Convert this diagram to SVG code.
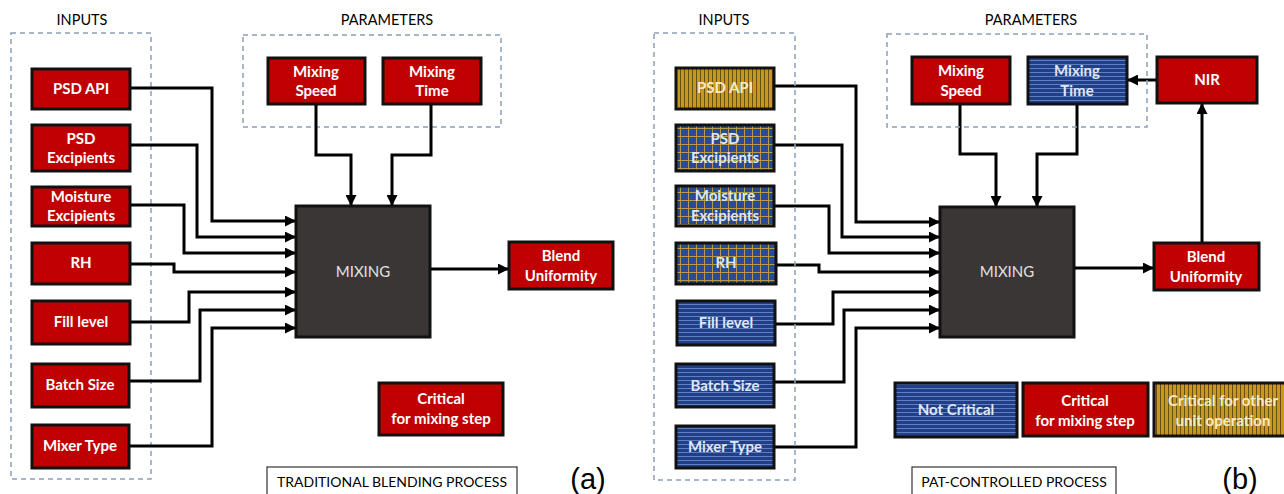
<svg xmlns="http://www.w3.org/2000/svg" width="1284" height="494" viewBox="0 0 1284 494">
<defs>
<style>
.lbl{font-family:Lato,"Liberation Sans",sans-serif;font-size:14.5px;fill:#000;text-anchor:middle}
.ttl{font-family:Lato,"Liberation Sans",sans-serif;font-size:14px;fill:#000;text-anchor:middle}
.nt{font-family:Lato,"Liberation Sans",sans-serif;font-size:15px;font-weight:bold;fill:#fff;text-anchor:middle}
.pt{font-family:Lato,"Liberation Sans",sans-serif;font-size:15px;font-weight:bold;fill:#dfe6f5;text-anchor:middle}
.gt{font-family:Lato,"Liberation Sans",sans-serif;font-size:15px;font-weight:bold;fill:#f5ecc4;text-anchor:middle}
.mt{font-family:Lato,"Liberation Sans",sans-serif;font-size:15px;fill:#e2e2e2;text-anchor:middle}
.big{font-family:"Liberation Sans",sans-serif;font-size:29px;fill:#000;text-anchor:middle}
.red{fill:#c00000;stroke:#111;stroke-width:3}
.hs{fill:url(#hs);stroke:#111;stroke-width:3}
.vs{fill:url(#vs);stroke:#111;stroke-width:3}
.gr{fill:url(#gr);stroke:#111;stroke-width:3}
.mix{fill:#3a3636;stroke:#111;stroke-width:3}
.dash{fill:none;stroke:#8aa0b8;stroke-width:1.5;stroke-dasharray:5 4}
.tb{fill:#fff;stroke:#333;stroke-width:1.2}
.c{fill:none;stroke:#000;stroke-width:3;marker-end:url(#ah)}
</style>
<marker id="ah" markerUnits="userSpaceOnUse" markerWidth="11" markerHeight="11" refX="11" refY="5.5" orient="auto"><path d="M0,0 L11,5.5 L0,11 z" fill="#000"/></marker>
<pattern id="hs" patternUnits="userSpaceOnUse" width="4" height="4"><rect width="4" height="4" fill="#213f86"/><rect width="4" height="1" fill="#5f7fc0"/></pattern>
<pattern id="vs" patternUnits="userSpaceOnUse" width="4" height="4"><rect width="4" height="4" fill="#c8981e"/><rect width="1" height="4" fill="#6a5010"/></pattern>
<pattern id="gr" patternUnits="userSpaceOnUse" width="8" height="8"><rect width="8" height="8" fill="#2b4b8e"/><rect width="8" height="1" fill="#b39a4c"/><rect width="1" height="8" fill="#b39a4c"/></pattern>
</defs>

<g id="panel-a-frames">
<text class="lbl" x="82" y="25">INPUTS</text>
<rect class="dash" x="11" y="33" width="140" height="446"/>
<text class="lbl" x="387" y="25">PARAMETERS</text>
<rect class="dash" x="243" y="35" width="258" height="92"/>
</g>

<g id="connectors">
<path class="c" d="M130,88 H212 V221 H296"/>
<path class="c" d="M130,145 H197 V237 H296"/>
<path class="c" d="M130,205 H184 V253 H296"/>
<path class="c" d="M130,264 H174 V272 H296"/>
<path class="c" d="M130,322 H189 V292 H296"/>
<path class="c" d="M129,381 H200 V310 H296"/>
<path class="c" d="M129,446 H212 V328 H296"/>
<path class="c" d="M316,104 V155 H351 V206"/>
<path class="c" d="M431,104 V155 H392 V206"/>
<path class="c" d="M430,269 H509"/>
<path class="c" d="M774,86 H856 V222 H940"/>
<path class="c" d="M774,145 H842 V237 H940"/>
<path class="c" d="M774,206 H829 V253 H940"/>
<path class="c" d="M776,265 H819 V272 H940"/>
<path class="c" d="M775,324 H833 V292 H940"/>
<path class="c" d="M774,382 H844 V310 H940"/>
<path class="c" d="M774,447 H856 V328 H940"/>
<path class="c" d="M960,104 V154 H996 V207"/>
<path class="c" d="M1077,104 V154 H1037 V207"/>
<path class="c" d="M1074,268 H1154"/>
<path class="c" d="M1202,243 V103"/>
<path class="c" d="M1157,80 H1127"/>
</g>

<g id="a-psd-api"><rect class="red" x="32" y="69" width="98" height="40"/><text class="nt" x="81" y="94">PSD API</text></g>
<g id="a-psd-excipients"><rect class="red" x="32" y="125" width="98" height="46"/><text class="nt" x="81" y="144">PSD</text><text class="nt" x="81" y="163">Excipients</text></g>
<g id="a-moisture"><rect class="red" x="32" y="187" width="98" height="39"/><text class="nt" x="81" y="202">Moisture</text><text class="nt" x="81" y="221">Excipients</text></g>
<g id="a-rh"><rect class="red" x="32" y="243" width="98" height="41"/><text class="nt" x="81" y="268">RH</text></g>
<g id="a-fill"><rect class="red" x="32" y="301" width="98" height="43"/><text class="nt" x="81" y="327">Fill level</text></g>
<g id="a-batch"><rect class="red" x="32" y="364" width="97" height="43"/><text class="nt" x="80" y="390">Batch Size</text></g>
<g id="a-mixer"><rect class="red" x="32" y="425" width="97" height="43"/><text class="nt" x="80" y="451">Mixer Type</text></g>
<g id="a-speed"><rect class="red" x="268" y="58" width="97" height="46"/><text class="nt" x="316" y="77">Mixing</text><text class="nt" x="316" y="96">Speed</text></g>
<g id="a-time"><rect class="red" x="383" y="58" width="98" height="46"/><text class="nt" x="432" y="77">Mixing</text><text class="nt" x="432" y="96">Time</text></g>
<g id="a-mixing"><rect class="mix" x="296" y="206" width="134" height="131"/><text class="mt" x="363" y="277">MIXING</text></g>
<g id="a-blend"><rect class="red" x="509" y="242" width="104" height="47"/><text class="nt" x="561" y="261">Blend</text><text class="nt" x="561" y="281">Uniformity</text></g>
<g id="a-legend"><rect class="red" x="379" y="383" width="124" height="52"/><text class="nt" x="441" y="404">Critical</text><text class="nt" x="441" y="424">for mixing step</text></g>
<g id="a-title"><rect class="tb" x="267" y="467" width="250" height="32"/><text class="ttl" x="392" y="487">TRADITIONAL BLENDING PROCESS</text><text class="big" x="588" y="489">(a)</text></g>

<g id="panel-b-frames">
<text class="lbl" x="724" y="25">INPUTS</text>
<rect class="dash" x="654" y="33" width="141" height="447"/>
<text class="lbl" x="1031" y="25">PARAMETERS</text>
<rect class="dash" x="887" y="34" width="260" height="93"/>
</g>

<g id="b-psd-api"><rect class="vs" x="676" y="68" width="98" height="41"/><text class="gt" x="725" y="93">PSD API</text></g>
<g id="b-psd-excipients"><rect class="gr" x="676" y="125" width="98" height="46"/><text class="pt" x="725" y="144">PSD</text><text class="pt" x="725" y="163">Excipients</text></g>
<g id="b-moisture"><rect class="gr" x="676" y="186" width="98" height="40"/><text class="pt" x="725" y="201">Moisture</text><text class="pt" x="725" y="221">Excipients</text></g>
<g id="b-rh"><rect class="gr" x="676" y="243" width="100" height="41"/><text class="pt" x="726" y="268">RH</text></g>
<g id="b-fill"><rect class="hs" x="677" y="301" width="98" height="44"/><text class="pt" x="726" y="328">Fill level</text></g>
<g id="b-batch"><rect class="hs" x="676" y="364" width="98" height="43"/><text class="pt" x="725" y="391">Batch Size</text></g>
<g id="b-mixer"><rect class="hs" x="676" y="426" width="98" height="42"/><text class="pt" x="725" y="452">Mixer Type</text></g>
<g id="b-speed"><rect class="red" x="912" y="57" width="98" height="47"/><text class="nt" x="961" y="76">Mixing</text><text class="nt" x="961" y="96">Speed</text></g>
<g id="b-time"><rect class="hs" x="1028" y="57" width="99" height="47"/><text class="pt" x="1077" y="76">Mixing</text><text class="pt" x="1077" y="96">Time</text></g>
<g id="b-nir"><rect class="red" x="1157" y="57" width="100" height="46"/><text class="nt" x="1207" y="85">NIR</text></g>
<g id="b-mixing"><rect class="mix" x="940" y="207" width="134" height="130"/><text class="mt" x="1007" y="277">MIXING</text></g>
<g id="b-blend"><rect class="red" x="1154" y="243" width="105" height="47"/><text class="nt" x="1206" y="262">Blend</text><text class="nt" x="1206" y="282">Uniformity</text></g>
<g id="b-legend-not"><rect class="hs" x="895" y="383" width="122" height="54"/><text class="pt" x="956" y="415">Not Critical</text></g>
<g id="b-legend-crit"><rect class="red" x="1023" y="383" width="125" height="53"/><text class="nt" x="1085" y="406">Critical</text><text class="nt" x="1085" y="426">for mixing step</text></g>
<g id="b-legend-other"><rect class="vs" x="1154" y="383" width="136" height="53"/><text class="gt" x="1223" y="406">Critical for other</text><text class="gt" x="1223" y="426">unit operation</text></g>
<g id="b-title"><rect class="tb" x="912" y="467" width="204" height="32"/><text class="ttl" x="1014" y="487">PAT-CONTROLLED PROCESS</text><text class="big" x="1240" y="489">(b)</text></g>
</svg>
